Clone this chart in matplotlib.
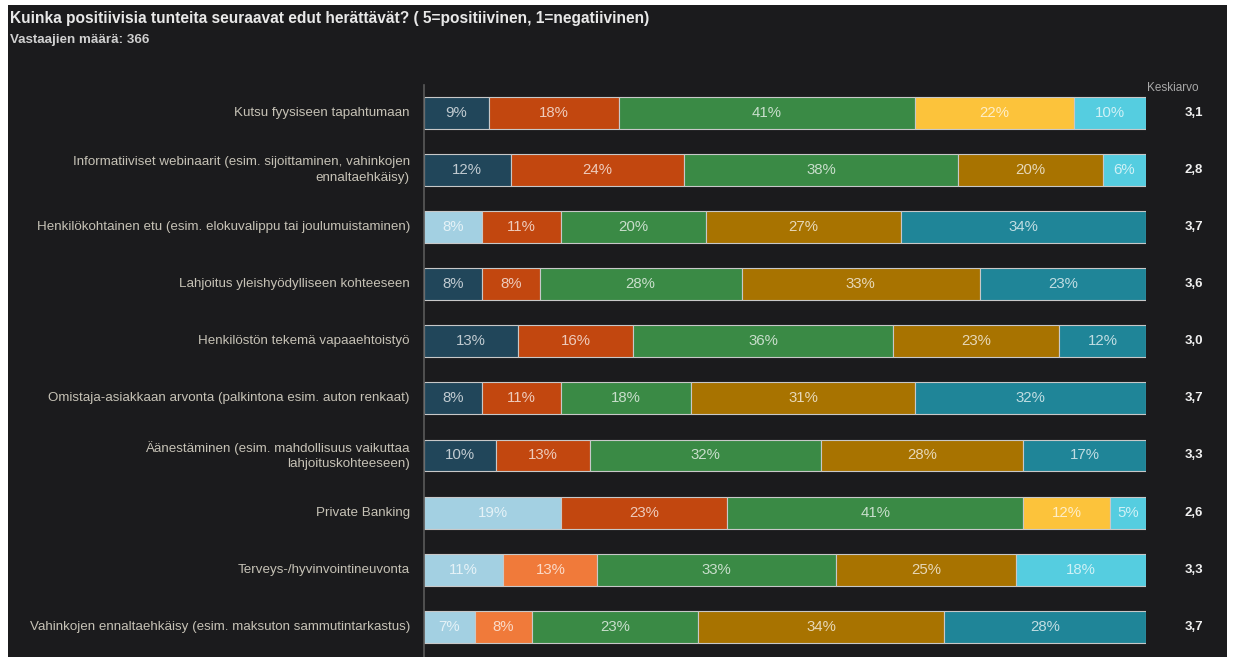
import numpy as np
import matplotlib
matplotlib.use("Agg")
import matplotlib.pyplot as plt
from matplotlib.patches import Rectangle
from matplotlib.colors import to_rgb

plt.rcParams["font.family"] = ["Liberation Sans", "DejaVu Sans"]

# survey data: share of answers per score 1..5 and the mean score
categories = [
    "Kutsu fyysiseen tapahtumaan",
    "Informatiiviset webinaarit (esim. sijoittaminen, vahinkojen\nennaltaehkäisy)",
    "Henkilökohtainen etu (esim. elokuvalippu tai joulumuistaminen)",
    "Lahjoitus yleishyödylliseen kohteeseen",
    "Henkilöstön tekemä vapaaehtoistyö",
    "Omistaja-asiakkaan arvonta (palkintona esim. auton renkaat)",
    "Äänestäminen (esim. mahdollisuus vaikuttaa\nlahjoituskohteeseen)",
    "Private Banking",
    "Terveys-/hyvinvointineuvonta",
    "Vahinkojen ennaltaehkäisy (esim. maksuton sammutintarkastus)",
]
score_1 = [9, 12, 8, 8, 13, 8, 10, 19, 11, 7]
score_2 = [18, 24, 11, 8, 16, 11, 13, 23, 13, 8]
score_3 = [41, 38, 20, 28, 36, 18, 32, 41, 33, 23]
score_4 = [22, 20, 27, 33, 23, 31, 28, 12, 25, 34]
score_5 = [10, 6, 34, 23, 12, 32, 17, 5, 18, 28]
averages = ["3,1", "2,8", "3,7", "3,6", "3,0", "3,7", "3,3", "2,6", "3,3", "3,7"]

title = "Kuinka positiivisia tunteita seuraavat edut herättävät? ( 5=positiivinen, 1=negatiivinen)"
subtitle = "Vastaajien määrä: 366"

# palette
NAVY = "#21465a"
LBLUE = "#a3d0e2"
ORANGE = "#c2470f"
LORANGE = "#f07a3a"
GREEN = "#3a8a45"
YELLOW = "#fcc33b"
GOLD = "#a87300"
CYAN = "#55cde0"
TEAL = "#1f8598"

row_colors = [
    [NAVY, ORANGE, GREEN, YELLOW, CYAN],
    [NAVY, ORANGE, GREEN, GOLD, CYAN],
    [LBLUE, ORANGE, GREEN, GOLD, TEAL],
    [NAVY, ORANGE, GREEN, GOLD, TEAL],
    [NAVY, ORANGE, GREEN, GOLD, TEAL],
    [NAVY, ORANGE, GREEN, GOLD, TEAL],
    [NAVY, ORANGE, GREEN, GOLD, TEAL],
    [LBLUE, ORANGE, GREEN, YELLOW, CYAN],
    [LBLUE, LORANGE, GREEN, GOLD, CYAN],
    [LBLUE, LORANGE, GREEN, GOLD, TEAL],
]

BG = "#1b1b1d"


def tint(c, amt=0.72):
    r, g, b = to_rgb(c)
    return (r + (1 - r) * amt, g + (1 - g) * amt, b + (1 - b) * amt)


W, H = 1234, 657
fig = plt.figure(figsize=(W / 100, H / 100), dpi=100, facecolor="white")
fig.patches.append(Rectangle((8 / W, 0), (1227 - 8) / W, (H - 5) / H,
                             transform=fig.transFigure, facecolor=BG,
                             edgecolor="none", zorder=-10))

ax = fig.add_axes([424 / W, 0, 722 / W, (H - 85) / H])
ax.set_facecolor("none")

series = np.array([score_1, score_2, score_3, score_4, score_5], dtype=float)
y = np.arange(len(categories))
left = np.zeros(len(categories))
for k in range(series.shape[0]):
    vals = series[k]
    cols = [row_colors[i][k] for i in range(len(categories))]
    ax.barh(y, vals, left=left, height=0.56, color=cols,
            edgecolor="#c8c8c8", linewidth=0.8, zorder=2)
    for i, v in enumerate(vals):
        ax.text(left[i] + v / 2, y[i], f"{int(v)}%", ha="center", va="center",
                fontsize=10.8, color=tint(cols[i]), zorder=3)
    left += vals

for i, a in enumerate(averages):
    ax.text(106.6, y[i], a, ha="center", va="center", fontsize=9.5,
            fontweight="bold", color="#f0f0f0", clip_on=False)

# category names drawn as plain text so wrapped ones get wider line spacing
for i, cat in enumerate(categories):
    ax.text(-1.95, y[i], cat, ha="right", va="center", fontsize=9.6,
            color="#c6c2b6", linespacing=1.35, multialignment="right",
            clip_on=False)

ax.set_xlim(0, 100)
ax.set_ylim(9.53, -0.49)
ax.set_xticks([])
ax.set_yticks([])
for s in ["top", "right", "bottom"]:
    ax.spines[s].set_visible(False)
ax.spines["left"].set_color("#5a5a5a")
ax.spines["left"].set_linewidth(1.2)

fig.text(1173 / W, 1 - 88 / H, "Keskiarvo", ha="center", va="center",
         fontsize=8.5, color="#a8a8a8")
fig.text(10 / W, 1 - 18 / H, title, ha="left", va="center", fontsize=11.2,
         fontweight="bold", color="#e8e8e8")
fig.text(10 / W, 1 - 40 / H, subtitle, ha="left", va="center", fontsize=9.6,
         fontweight="bold", color="#d0d0d0")

fig.savefig("out.png", dpi=100, facecolor=fig.get_facecolor())
